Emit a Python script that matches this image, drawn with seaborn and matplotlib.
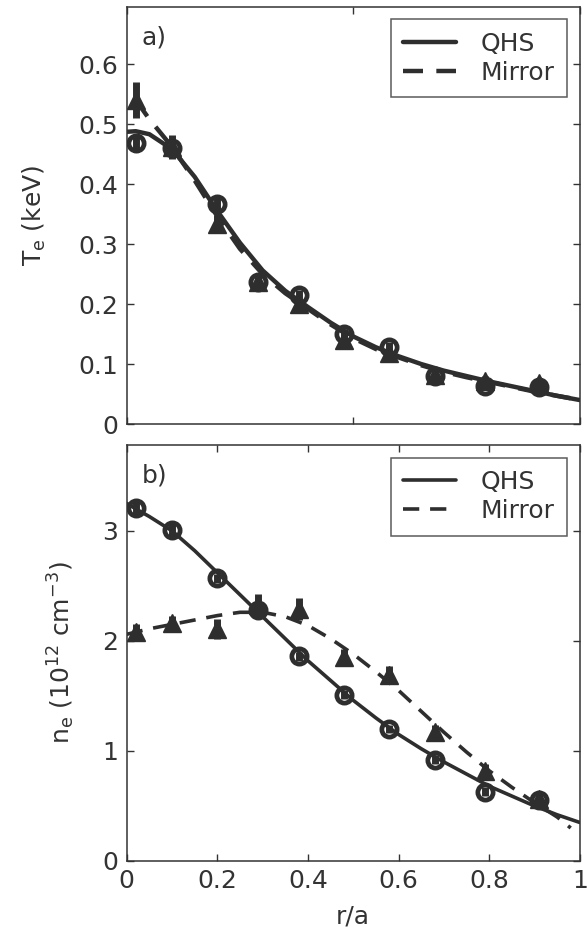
"""
Te and ne profiles, QHS vs Mirror
"""

import numpy as np
import pandas as pd
import matplotlib
matplotlib.use("Agg")
import matplotlib.pyplot as plt
import seaborn as sns

# measured points (r/a)
r_pts = [0.02, 0.10, 0.20, 0.29, 0.38, 0.48, 0.58, 0.68, 0.79, 0.91]

te_qhs = [0.468, 0.460, 0.367, 0.236, 0.215, 0.150, 0.128, 0.080, 0.064, 0.062]
te_qhs_err = [0.015, 0.012, 0.010, 0.008, 0.008, 0.008, 0.008, 0.006, 0.006, 0.006]
te_mir = [0.540, 0.462, 0.334, 0.236, 0.200, 0.140, 0.118, 0.082, 0.072, 0.068]
te_mir_err = [0.030, 0.020, 0.015, 0.010, 0.010, 0.008, 0.008, 0.008, 0.008, 0.008]

ne_qhs = [3.21, 3.01, 2.57, 2.28, 1.86, 1.51, 1.20, 0.92, 0.63, 0.55]
ne_qhs_err = [0.07, 0.06, 0.04, 0.05, 0.04, 0.04, 0.04, 0.04, 0.04, 0.04]
ne_mir = [2.08, 2.16, 2.11, 2.33, 2.29, 1.85, 1.69, 1.17, 0.82, 0.56]
ne_mir_err = [0.07, 0.07, 0.09, 0.10, 0.10, 0.08, 0.08, 0.07, 0.06, 0.05]

# fitted profiles
r_fit = [0.0, 0.02, 0.05, 0.1, 0.15, 0.2, 0.25, 0.3, 0.35, 0.4, 0.45, 0.5,
         0.55, 0.6, 0.65, 0.7, 0.75, 0.8, 0.85, 0.9, 0.95, 1.0]
te_qhs_fit = [0.487, 0.488, 0.483, 0.458, 0.412, 0.355, 0.302, 0.256, 0.222,
              0.195, 0.169, 0.146, 0.128, 0.113, 0.100, 0.089, 0.080, 0.071,
              0.063, 0.055, 0.047, 0.040]

r_fit_mir = [0.02, 0.05, 0.1, 0.15, 0.2, 0.25, 0.3, 0.35, 0.4, 0.45, 0.5,
             0.55, 0.6, 0.65, 0.7, 0.75, 0.8, 0.85, 0.9, 0.95, 0.98]
te_mir_fit = [0.540, 0.508, 0.462, 0.406, 0.346, 0.292, 0.250, 0.218, 0.192,
              0.166, 0.143, 0.125, 0.111, 0.098, 0.087, 0.078, 0.070, 0.062,
              0.054, 0.047, 0.043]

ne_qhs_fit = [3.25, 3.20, 3.13, 3.00, 2.82, 2.62, 2.42, 2.22, 2.02, 1.82,
              1.64, 1.46, 1.30, 1.15, 1.02, 0.90, 0.79, 0.68, 0.59, 0.50,
              0.42, 0.35]
r_fit_ne_mir = [0.0, 0.05, 0.1, 0.15, 0.2, 0.25, 0.3, 0.35, 0.4, 0.45, 0.5,
                0.55, 0.6, 0.65, 0.7, 0.75, 0.8, 0.85, 0.9, 0.95, 0.98]
ne_mir_fit = [2.06, 2.11, 2.15, 2.19, 2.23, 2.26, 2.26, 2.22, 2.14, 2.02,
              1.88, 1.72, 1.55, 1.36, 1.17, 0.99, 0.82, 0.67, 0.53, 0.40,
              0.30]

ink = '#2e2e2e'
txt = '#333333'
fs = 18
sns.set_style('ticks')
plt.rcParams['font.family'] = ['DejaVu Sans']
plt.rcParams['mathtext.fontset'] = 'dejavusans'

fig = plt.figure(figsize=(5.88, 9.33), dpi=100)
ax1 = fig.add_axes([0.2155, 0.5455, 0.7705, 0.447])
ax2 = fig.add_axes([0.2155, 0.0772, 0.7705, 0.4458])


def draw_panel(ax, r_q, y_q, r_m, y_m, pq, pq_err, pm, pm_err, lw):
    sns.lineplot(x=r_q, y=y_q, ax=ax, color=ink, lw=lw, label='QHS')
    sns.lineplot(x=r_m, y=y_m, ax=ax, color=ink, lw=lw, label='Mirror')
    ax.lines[1].set_dashes([4.5, 3])
    ax.errorbar(r_pts, pm, yerr=pm_err, fmt='^', color=ink, ms=12.5,
                elinewidth=5, capsize=0, zorder=3)
    ax.errorbar(r_pts, pq, yerr=pq_err, fmt='o', color=ink, mfc='none',
                mec=ink, mew=3.4, ms=11, elinewidth=5, capsize=0, zorder=4)
    ax.set_xlim(0, 1)
    ax.tick_params(direction='in', top=True, right=True, length=5,
                   width=1, labelsize=fs, colors=txt, pad=6)
    for s in ax.spines.values():
        s.set_linewidth(1.1)
        s.set_color(txt)
    leg = ax.legend(loc='upper right', fontsize=fs, frameon=True,
                    fancybox=False, edgecolor=txt, handlelength=2.1,
                    borderpad=0.5, labelspacing=0.2, handletextpad=1.0,
                    borderaxespad=0.5)
    leg.get_frame().set_linewidth(1.1)
    for t in leg.get_texts():
        t.set_color(txt)


draw_panel(ax1, r_fit, te_qhs_fit, r_fit_mir, te_mir_fit, te_qhs, te_qhs_err,
           te_mir, te_mir_err, 3.2)
ax1.set_ylim(0, 0.695)
ax1.set_yticks([0, 0.1, 0.2, 0.3, 0.4, 0.5, 0.6])
ax1.set_yticklabels(['0', '0.1', '0.2', '0.3', '0.4', '0.5', '0.6'])
ax1.set_xticks([0, 0.5, 1])
ax1.set_xticklabels([])
ax1.set_ylabel('T$_\\mathregular{e}$ (keV)', fontsize=fs, color=txt,
               labelpad=22)
ax1.text(0.033, 0.955, 'a)', transform=ax1.transAxes, fontsize=fs,
         color=txt, va='top')

draw_panel(ax2, r_fit, ne_qhs_fit, r_fit_ne_mir, ne_mir_fit, ne_qhs,
           ne_qhs_err, ne_mir, ne_mir_err, 2.6)
ax2.set_ylim(0, 3.78)
ax2.set_yticks([0, 1, 2, 3])
ax2.set_xticks([0, 0.2, 0.4, 0.6, 0.8, 1])
ax2.set_xticklabels(['0', '0.2', '0.4', '0.6', '0.8', '1'])
ax2.set_xlabel('r/a', fontsize=fs, color=txt, labelpad=8)
ax2.set_ylabel('n$_\\mathregular{e}$ (10$^{12}$ cm$^{-3}$)', fontsize=fs,
               color=txt, labelpad=18)
ax2.text(0.033, 0.955, 'b)', transform=ax2.transAxes, fontsize=fs,
         color=txt, va='top')

fig.savefig('out.png', dpi=100)
